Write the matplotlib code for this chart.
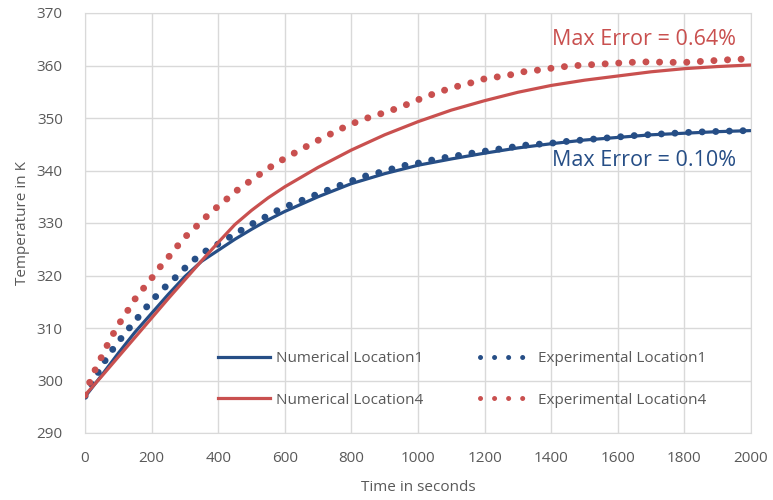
import matplotlib
matplotlib.use("Agg")
import matplotlib.pyplot as plt
from matplotlib.lines import Line2D

plt.rcParams['font.family'] = ['Open Sans', 'DejaVu Sans']

# numerical results (time in s, temperature in K)
tid_num = [0, 50, 100, 150, 200, 250, 300, 350, 400, 450, 500, 550, 600, 700,
           800, 900, 1000, 1100, 1200, 1300, 1400, 1500, 1600, 1700, 1800,
           1900, 2000]
num_loc1 = [296.9, 301.0, 305.2, 309.2, 312.8, 316.4, 319.8, 322.7, 324.8,
            326.9, 328.8, 330.6, 332.2, 335.0, 337.5, 339.4, 341.0, 342.2,
            343.3, 344.3, 345.1, 345.8, 346.3, 346.8, 347.1, 347.4, 347.6]
num_loc4 = [297.2, 300.8, 304.5, 308.2, 311.9, 315.6, 319.2, 322.8, 326.3,
            329.7, 332.4, 334.8, 336.9, 340.6, 343.9, 346.8, 349.3, 351.5,
            353.3, 354.9, 356.2, 357.2, 358.0, 358.8, 359.4, 359.8, 360.1]

# measured values
tid_exp1 = [0, 28, 55, 85, 120, 155, 190, 225, 268, 306, 350, 400, 445, 495,
            543, 590, 643, 690, 743, 795, 845, 895, 954, 1009, 1063, 1116,
            1171, 1224, 1277, 1331, 1387, 1439, 1494, 1549, 1604, 1659, 1714,
            1769, 1824, 1879, 1932, 1989, 2000]
exp_loc1 = [297.0, 300.2, 303.3, 306.1, 309.0, 311.7, 314.4, 316.9, 319.4,
            321.8, 324.2, 326.0, 327.7, 329.6, 331.2, 332.8, 334.1, 335.3,
            336.6, 337.9, 339.0, 339.8, 340.9, 341.5, 342.3, 342.8, 343.4,
            343.9, 344.4, 344.9, 345.1, 345.5, 345.8, 346.1, 346.4, 346.7,
            346.9, 347.1, 347.3, 347.4, 347.5, 347.6, 347.6]
tid_exp4 = [0, 20, 45, 68, 95, 125, 155, 192, 225, 260, 295, 335, 377, 417,
            460, 505, 550, 597, 645, 692, 742, 793, 843, 893, 945, 997, 1051,
            1104, 1154, 1207, 1262, 1316, 1371, 1424, 1479, 1532, 1584, 1639,
            1694, 1749, 1802, 1855, 1906, 1962, 2000]
exp_loc4 = [297.2, 300.7, 303.9, 306.9, 310.1, 313.0, 316.0, 318.8, 321.6,
            324.2, 327.0, 329.4, 332.0, 334.1, 336.4, 338.4, 340.4, 342.2,
            343.9, 345.5, 347.1, 348.7, 349.9, 350.9, 352.0, 353.4, 354.7,
            355.8, 356.6, 357.6, 358.0, 358.8, 359.2, 359.7, 360.0, 360.2,
            360.4, 360.6, 360.7, 360.6, 360.6, 360.8, 361.0, 361.2, 361.2]

blaa = '#264E86'
rod = '#C9504F'
gra = '#595959'
prikk = (0, (0.01, 1.95))

fig = plt.figure(figsize=(7.73, 5.0), dpi=100)
ax = fig.add_axes([0.110, 0.134, 0.8615, 0.840])

ax.plot(tid_num, num_loc1, color=blaa, lw=2.3, solid_capstyle='butt', zorder=3)
ax.plot(tid_exp1, exp_loc1, color=blaa, lw=5.0, linestyle=prikk,
        dash_capstyle='round', zorder=4)
ax.plot(tid_num, num_loc4, color=rod, lw=2.3, solid_capstyle='butt', zorder=5)
ax.plot(tid_exp4, exp_loc4, color=rod, lw=5.0, linestyle=prikk,
        dash_capstyle='round', zorder=6)

ax.set_xlim(0, 2000)
ax.set_ylim(290, 370)
ax.set_xticks(range(0, 2001, 200))
ax.set_yticks(range(290, 371, 10))
ax.grid(True, color='#D9D9D9', lw=1.0)
ax.set_axisbelow(True)
for s in ax.spines.values():
    s.set_color('#D9D9D9')
ax.tick_params(length=0, labelsize=11, labelcolor=gra)
ax.tick_params(axis='y', pad=16)
ax.tick_params(axis='x', pad=13)
ax.set_xlabel('Time in seconds', fontsize=11, color=gra, labelpad=10)
ax.set_ylabel('Temperature in K', fontsize=11, color=gra, labelpad=5)

ax.text(1955, 364.9, 'Max Error = 0.64%', color=rod, fontsize=15.5,
        ha='right', va='center')
ax.text(1955, 342.0, 'Max Error = 0.10%', color=blaa, fontsize=15.5,
        ha='right', va='center')

handles = [
    Line2D([], [], color=blaa, lw=2.3),
    Line2D([], [], color=rod, lw=2.3),
    Line2D([], [], color=blaa, lw=3.6, linestyle=(0, (0.01, 2.8)),
           dash_capstyle='round'),
    Line2D([], [], color=rod, lw=3.6, linestyle=(0, (0.01, 2.8)),
           dash_capstyle='round'),
]
labels = ['Numerical Location1', 'Numerical Location4',
          'Experimental Location1', 'Experimental Location4']
leg = ax.legend(handles, labels, ncol=2, frameon=False, fontsize=11,
                loc='center', bbox_to_anchor=(0.566, 0.128),
                handlelength=3.4, handletextpad=0.4, columnspacing=3.7,
                labelspacing=1.75, labelcolor=gra)

fig.savefig('out.png', dpi=100)
